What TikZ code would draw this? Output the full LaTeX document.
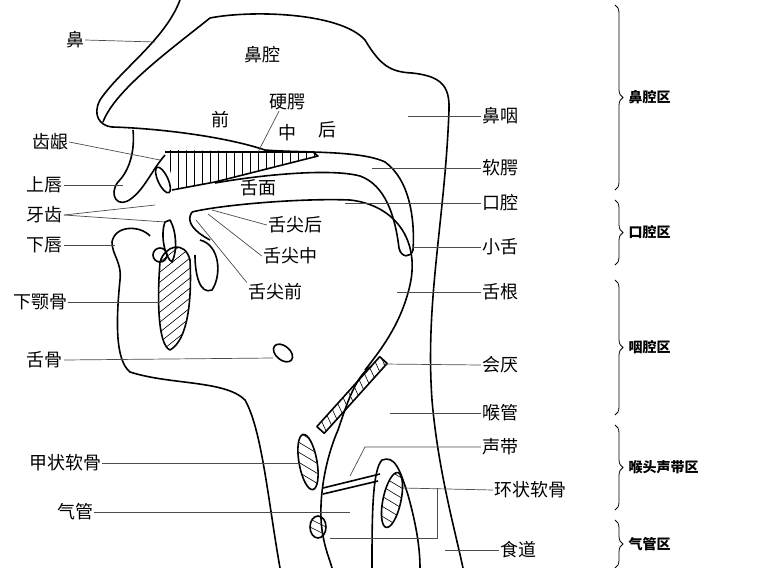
\documentclass[tikz,border=0pt]{standalone}
\usepackage{fontspec}
\newfontfamily\cjk{Noto Sans CJK SC}
\usetikzlibrary{decorations.pathreplacing}
\begin{document}
\begin{tikzpicture}[x=1pt,y=-1pt,
    organ/.style={line width=1.6pt,line join=round},
    lead/.style={line width=0.7pt,draw=black!70},
    lbl/.style={font=\cjk\fontsize{18}{20}\selectfont,inner sep=1pt},
    zone/.style={font=\cjk\fontsize{14}{16}\selectfont\bfseries,anchor=west},
    hatch/.style={line width=0.6pt}]
    \useasboundingbox (0,0) rectangle (777,568);

    % head outline: nose and nasal cavity
    \draw[organ] (180,0) .. controls (165,40) and (120,70) .. (100,100)
        .. controls (92,115) and (100,126) .. (112,127)
        .. controls (150,128) and (220,135) .. (265,150)
        .. controls (300,153) and (360,150) .. (385,162)
        .. controls (410,180) and (415,220) .. (413,250)
        .. controls (411,258) and (401,258) .. (399,248)
        .. controls (395,215) and (385,185) .. (360,176)
        .. controls (330,168) and (260,175) .. (215,183);
    \draw[organ] (103,122) .. controls (115,90) and (170,50) .. (210,18)
        .. controls (250,10) and (340,12) .. (365,40)
        .. controls (380,65) and (390,72) .. (412,73)
        .. controls (440,76) and (450,85) .. (449,110)
        .. controls (445,220) and (425,300) .. (432,400)
        .. controls (438,470) and (455,530) .. (463,568);
    % upper lip
    \draw[organ] (133,130) .. controls (135,150) and (130,170) .. (118,182)
        .. controls (108,195) and (118,210) .. (132,198)
        .. controls (145,188) and (152,170) .. (165,155);
    % hard palate (hatched)
    \begin{scope}
        \clip (165,150) -- (313,152) -- (318,156) -- (215,182) -- (175,190) -- cycle;
        \foreach \x in {170,178,...,315} \draw[hatch] (\x,140) -- (\x,200);
    \end{scope}
    \draw[organ] (165,152) -- (313,152) -- (318,156) -- (215,182) -- (172,190);
    \draw[organ,rotate around={25:(163,180)}] (163,180) ellipse (5 and 14);
    % tongue
    \draw[organ] (192,212) .. controls (220,205) and (300,198) .. (350,200)
        .. controls (395,205) and (420,240) .. (410,285)
        .. controls (402,320) and (385,345) .. (365,370);
    \draw[organ] (192,212) .. controls (185,222) and (195,232) .. (210,240);
    % lower teeth and gums
    \draw[organ] (165,222) .. controls (160,235) and (165,258) .. (172,262)
        .. controls (178,250) and (176,230) .. (170,220) -- cycle;
    \draw[organ] (160,255) circle (7);
    \draw[organ] (200,240) .. controls (220,245) and (222,275) .. (212,290)
        .. controls (200,295) and (195,275) .. (195,255);
    % mandible (hatched)
    \begin{scope}
        \clip (160,262) .. controls (165,245) and (185,240) .. (190,260)
            .. controls (192,300) and (188,340) .. (170,350)
            .. controls (158,345) and (157,300) .. (160,262);
        \foreach \y in {230,240,...,380} \draw[hatch] (150,\y) -- (200,\y-40);
    \end{scope}
    \draw[organ] (160,262) .. controls (165,245) and (185,240) .. (190,260)
        .. controls (192,300) and (188,340) .. (170,350)
        .. controls (158,345) and (157,300) .. (160,262);
    % lower lip, chin and neck
    \draw[organ] (150,236) .. controls (140,225) and (115,225) .. (112,242)
        .. controls (112,255) and (122,262) .. (120,280)
        .. controls (116,320) and (115,360) .. (130,372)
        .. controls (170,385) and (225,380) .. (245,400)
        .. controls (262,430) and (268,500) .. (280,568);
    % hyoid
    \draw[organ,rotate around={-40:(283,353)}] (283,353) ellipse (11 and 7);
    % epiglottis (hatched)
    \begin{scope}[rotate around={48:(352,395)}]
        \clip (305,390) rectangle (399,400);
        \foreach \x in {305,313,...,405} \draw[hatch] (\x,388) -- (\x-6,402);
    \end{scope}
    \draw[organ,rotate around={48:(352,395)}] (305,390) rectangle (399,400);
    % larynx front wall
    \draw[organ] (372,366) .. controls (355,375) and (345,410) .. (338,430)
        .. controls (325,460) and (318,500) .. (322,530)
        .. controls (325,550) and (330,560) .. (332,568);
    % thyroid cartilage
    \draw[organ,rotate around={10:(308,462)}] (308,462) ellipse (9 and 28);
    \begin{scope}
        \clip[rotate around={10:(308,462)}] (308,462) ellipse (9 and 28);
        \foreach \y in {430,440,...,500} \draw[hatch] (295,\y) -- (320,\y+15);
    \end{scope}
    % cricoid ring
    \draw[organ] (318,527) ellipse (8 and 11);
    \begin{scope}
        \clip (318,527) ellipse (8 and 11);
        \foreach \y in {510,518,...,540} \draw[hatch] (308,\y) -- (328,\y+10);
    \end{scope}
    % vocal folds
    \draw[organ] (323,488) -- (380,474);
    \draw[organ] (323,494) -- (378,481);
    % arytenoid / posterior cricoid
    \draw[organ] (372,568) .. controls (372,520) and (372,470) .. (382,460)
        .. controls (395,455) and (400,470) .. (408,495)
        .. controls (415,520) and (420,545) .. (420,568);
    \draw[organ,rotate around={-12:(392,500)}] (392,500) ellipse (9 and 28);
    \begin{scope}
        \clip[rotate around={-12:(392,500)}] (392,500) ellipse (9 and 28);
        \foreach \y in {465,475,...,535} \draw[hatch] (380,\y) -- (405,\y+15);
    \end{scope}

    % labels without leaders
    \node[lbl] (nasal cavity) at (262,55) {鼻腔};
    \node[lbl] (front) at (220,120) {前};
    \node[lbl] (middle) at (287,133) {中};
    \node[lbl] (back) at (327,130) {后};
    \node[lbl] (blade) at (258,188) {舌面};
    % left labels
    \node[lbl] (nose) at (75,40) {鼻};
    \node[lbl] (hard palate) at (287,102) {硬腭};
    \node[lbl] (gum) at (50,142) {齿龈};
    \node[lbl] (upper lip) at (45,185) {上唇};
    \node[lbl] (teeth) at (45,215) {牙齿};
    \node[lbl] (lower lip) at (45,245) {下唇};
    \node[lbl] (jaw) at (40,302) {下颚骨};
    \node[lbl] (hyoid) at (45,360) {舌骨};
    \node[lbl] (thyroid) at (65,463) {甲状软骨};
    \node[lbl] (trachea) at (75,512) {气管};
    \node[lbl] (tip back) at (295,225) {舌尖后};
    \node[lbl] (tip mid) at (290,256) {舌尖中};
    \node[lbl] (tip front) at (275,292) {舌尖前};
    % right labels
    \node[lbl] (nasopharynx) at (500,116) {鼻咽};
    \node[lbl] (soft palate) at (500,168) {软腭};
    \node[lbl] (oral) at (500,203) {口腔};
    \node[lbl] (uvula) at (500,247) {小舌};
    \node[lbl] (root) at (500,292) {舌根};
    \node[lbl] (epiglottis) at (500,365) {会厌};
    \node[lbl] (larynx) at (500,413) {喉管};
    \node[lbl] (cords) at (500,447) {声带};
    \node[lbl] (cricoid) at (530,490) {环状软骨};
    \node[lbl] (esophagus) at (518,550) {食道};

    % leaders
    \draw[lead] (nose.east) -- (155,42);
    \draw[lead] (hard palate.south) ++(-8,0) -- (258,152);
    \draw[lead] (gum.east) -- (160,160);
    \draw[lead] (upper lip.east) -- (123,185);
    \draw[lead] (teeth.east) -- (155,205);
    \draw[lead] (teeth.east) -- (165,222);
    \draw[lead] (lower lip.east) -- (115,245);
    \draw[lead] (jaw.east) -- (160,302);
    \draw[lead] (hyoid.east) -- (273,358);
    \draw[lead] (thyroid.east) -- (300,463);
    \draw[lead] (trachea.east) -- (350,512);
    \draw[lead] (tip back.west) -- (212,210);
    \draw[lead] (tip mid.west) -- (208,214);
    \draw[lead] (tip front.north west) -- (196,220);
    \draw[lead] (nasopharynx.west) -- (408,116);
    \draw[lead] (soft palate.west) -- (372,168);
    \draw[lead] (oral.west) -- (345,203);
    \draw[lead] (uvula.west) -- (413,247);
    \draw[lead] (root.west) -- (397,292);
    \draw[lead] (epiglottis.west) -- (383,364);
    \draw[lead] (larynx.west) -- (390,413);
    \draw[lead] (cords.west) -- (365,447) -- (350,476);
    \draw[lead] (cricoid.west) -- (403,488);
    \draw[lead] (437,488) -- (437,538) -- (330,538);
    \draw[lead] (esophagus.west) -- (445,550);

    % zone braces
    \foreach \a/\b/\t/\n in {5/190/鼻腔区/zone1,200/265/口腔区/zone2,280/415/咽腔区/zone3,425/510/喉头声带区/zone4,520/568/气管区/zone5}{
        \draw[line width=0.8pt,decorate,decoration={brace,amplitude=8pt}]
            (615,\a) -- (615,\b) node[midway,xshift=10pt,zone] (\n) {\t};
    }
\end{tikzpicture}
\end{document}
